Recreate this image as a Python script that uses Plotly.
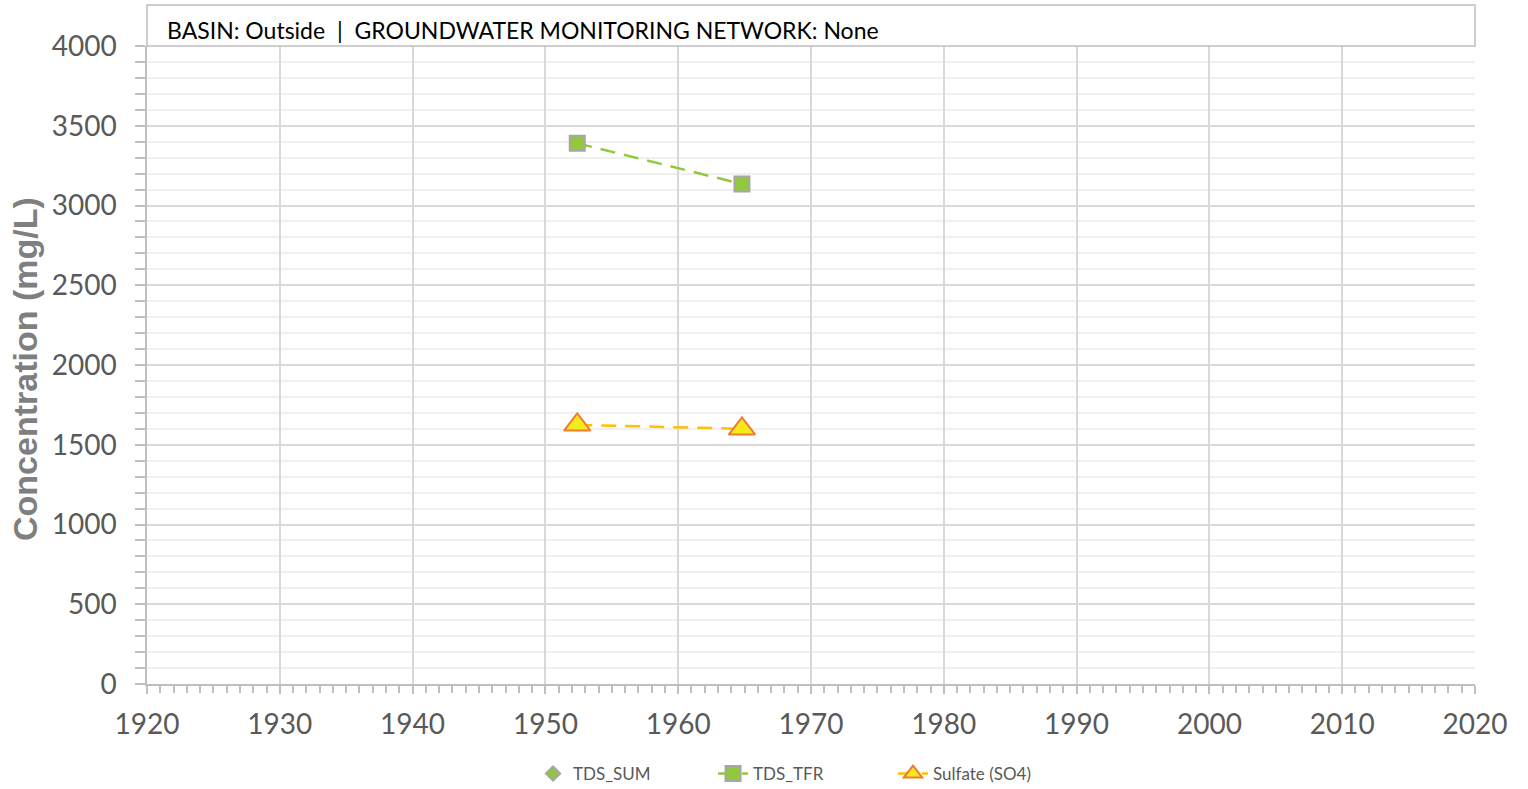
import plotly.graph_objects as go

# Data
tds_sum_x = [None]
tds_sum_y = [None]
tds_tfr_x = [1952.4, 1964.8]
tds_tfr_y = [3390, 3135]
so4_x = [1952.4, 1964.8]
so4_y = [1625, 1600]
x_ticks = [1920, 1930, 1940, 1950, 1960, 1970, 1980, 1990, 2000, 2010, 2020]
y_ticks = [0, 500, 1000, 1500, 2000, 2500, 3000, 3500, 4000]
header_text = "BASIN: Outside  |  GROUNDWATER MONITORING NETWORK: None"
y_title = "Concentration (mg/L)"

fig = go.Figure()
fig.add_trace(go.Scatter(
    x=tds_sum_x, y=tds_sum_y, name="TDS_SUM", mode="markers",
    marker=dict(symbol="diamond", size=11, color="#8DC63F",
                line=dict(color="#A6A6A6", width=2)),
))
fig.add_trace(go.Scatter(
    x=tds_tfr_x, y=tds_tfr_y, name="TDS_TFR", mode="lines+markers",
    line=dict(color="#92C83E", width=2.5, dash="15px,9px"),
    marker=dict(symbol="square", size=15, color="#92C83E",
                line=dict(color="#A6A6A6", width=2)),
))
fig.add_trace(go.Scatter(
    x=so4_x, y=so4_y, name="Sulfate (SO4)", mode="lines+markers",
    line=dict(color="#FFC000", width=2.5, dash="15px,9px"),
    marker=dict(symbol="triangle-up", size=23, color="#F7EA1C",
                line=dict(color="#ED7D31", width=2)),
))

W, H = 1528, 789
L, T = 147, 46
PW, PH = 1328, 638  # plot size in px
fig.update_layout(
    width=W, height=H,
    margin=dict(l=L, r=W - L - PW, t=T, b=H - T - PH, autoexpand=False),
    paper_bgcolor="white", plot_bgcolor="white",
    font=dict(family="Lato, Open Sans, sans-serif", color="#595959"),
    showlegend=True,
    legend=dict(orientation="h", x=0.494, xanchor="center", y=-72 / PH, yanchor="top",
                font=dict(size=17, color="#595959"), entrywidth=135, entrywidthmode="pixels"),
    xaxis=dict(
        range=[1920, 2020], tickvals=x_ticks, ticktext=[str(v) for v in x_ticks],
        showgrid=True, gridcolor="#D9D9D9", gridwidth=1.5,
        showline=True, linecolor="#BFBFBF", linewidth=1.5,
        ticks="outside", ticklen=8, tickcolor="#BFBFBF", tickwidth=1.5,
        tickfont=dict(size=28, color="#595959"), ticklabelstandoff=7,
        minor=dict(dtick=1, ticks="outside", ticklen=7, tickcolor="#BFBFBF", showgrid=False),
        zeroline=False,
    ),
    yaxis=dict(
        range=[0, 4000], tickvals=y_ticks, ticktext=[str(v) for v in y_ticks],
        showgrid=True, gridcolor="#D9D9D9", gridwidth=1.5,
        showline=True, linecolor="#BFBFBF", linewidth=1.5,
        ticks="outside", ticklen=10, tickcolor="#BFBFBF", tickwidth=1.5,
        tickfont=dict(size=28, color="#595959"), ticklabelstandoff=13,
        minor=dict(dtick=100, ticks="outside", ticklen=10, tickcolor="#BFBFBF",
                   showgrid=True, gridcolor="#F0F0F0", gridwidth=1.5),
        zeroline=False,
    ),
)

fig.add_annotation(text="<b>" + y_title + "</b>", xref="paper", yref="paper",
                   x=(25 - L) / PW, y=1 - (369 - T) / PH, xanchor="center", yanchor="middle",
                   textangle=-90, showarrow=False,
                   font=dict(family="Liberation Sans, Arial, sans-serif", size=34, color="#7F7F7F"))
fig.add_shape(type="rect", xref="paper", yref="paper", x0=0, x1=1, y0=1, y1=1 + 41 / PH,
              line=dict(color="#BFBFBF", width=1.5), fillcolor="white", layer="above")
fig.add_annotation(text=header_text, xref="paper", yref="paper",
                   x=(165 - L) / PW, y=1 + 16 / PH, xanchor="left", yanchor="middle",
                   showarrow=False, font=dict(family="Lato, Open Sans, sans-serif", size=23, color="#000000"))

fig.write_html("out.html", config={"displayModeBar": False},
               post_script="document.body.style.margin='0';")
